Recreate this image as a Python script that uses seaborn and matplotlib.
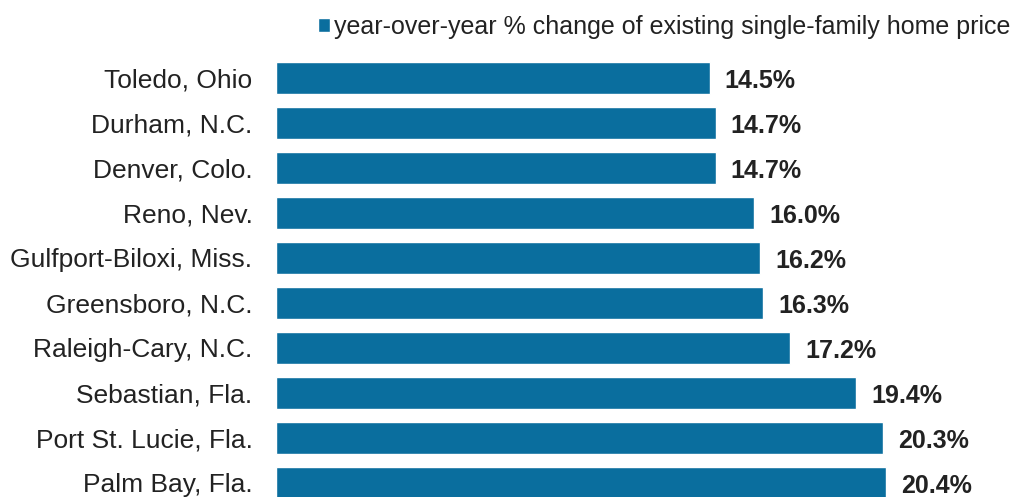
import matplotlib
matplotlib.use("Agg")
import matplotlib.pyplot as plt
import seaborn as sns
import pandas as pd

metros = ["Toledo, Ohio", "Durham, N.C.", "Denver, Colo.", "Reno, Nev.",
          "Gulfport-Biloxi, Miss.", "Greensboro, N.C.", "Raleigh-Cary, N.C.",
          "Sebastian, Fla.", "Port St. Lucie, Fla.", "Palm Bay, Fla."]
pct_change = [14.5, 14.7, 14.7, 16.0, 16.2, 16.3, 17.2, 19.4, 20.3, 20.4]
series_name = "year-over-year % change of existing single-family home price"

df = pd.DataFrame({"metro": metros, "pct": pct_change, "series": series_name})

sns.set_theme(style="white")
plt.rcParams["font.family"] = ["Liberation Sans", "DejaVu Sans"]

bar_color = "#0a6e9e"
text_color = "#222222"
fig = plt.figure(figsize=(10.18, 4.97), dpi=100)
ax = fig.add_axes([276 / 1018, 0, 742 / 1018, 1])

sns.barplot(data=df, x="pct", y="metro", hue="series", palette=[bar_color],
            width=0.7, ax=ax, orient="h", saturation=1, legend=True)

px_per_unit = 45.0
top_center = 78.0
ax.set_xlim(0, 742 / 29.9)
ax.set_ylim((497 - top_center) / px_per_unit, -top_center / px_per_unit)
for s in ax.spines.values():
    s.set_visible(False)
ax.set_xticks([])
ax.set_xlabel("")
ax.set_ylabel("")
ax.tick_params(axis="y", length=0, pad=17, labelsize=19, labelcolor=text_color)

for i, v in enumerate(pct_change):
    ax.text(v + 0.5, i + 0.06, f"{v:.1f}%", va="center", ha="left",
            fontsize=18, fontweight="bold", color=text_color)

leg = ax.legend(loc="upper right", bbox_to_anchor=(1.0, 0.985), frameon=False,
                fontsize=18, handlelength=0.5, handleheight=0.5,
                handletextpad=0.15, borderaxespad=0.0, borderpad=0.3,
                labelcolor=text_color)

fig.savefig("out.png", dpi=100)
